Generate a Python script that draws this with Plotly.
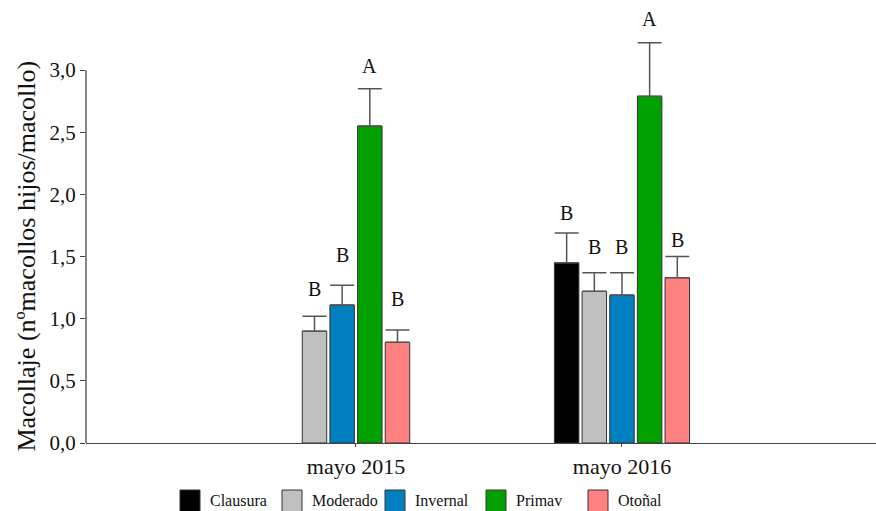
import plotly.graph_objects as go

categories = ["mayo 2015", "mayo 2016"]
series = ["Clausura", "Moderado", "Invernal", "Primav", "Otoñal"]
colors = ["#000000", "#c0c0c0", "#0080c0", "#00a000", "#ff8080"]

# values per series for [mayo 2015, mayo 2016]; None = no data
clausura = [None, 1.45]
moderado = [0.90, 1.22]
invernal = [1.11, 1.19]
primav = [2.55, 2.79]
otonal = [0.81, 1.33]

err_clausura = [None, 0.24]
err_moderado = [0.12, 0.15]
err_invernal = [0.16, 0.18]
err_primav = [0.30, 0.43]
err_otonal = [0.10, 0.17]

letters_clausura = [None, "B"]
letters_moderado = ["B", "B"]
letters_invernal = ["B", "B"]
letters_primav = ["A", "A"]
letters_otonal = ["B", "B"]

# y (data units) where each letter is drawn
letter_y_clausura = [None, 1.85]
letter_y_moderado = [1.24, 1.58]
letter_y_invernal = [1.51, 1.58]
letter_y_primav = [3.03, 3.41]
letter_y_otonal = [1.16, 1.63]

values = [clausura, moderado, invernal, primav, otonal]
errors = [err_clausura, err_moderado, err_invernal, err_primav, err_otonal]
letters = [letters_clausura, letters_moderado, letters_invernal, letters_primav, letters_otonal]
letter_ys = [letter_y_clausura, letter_y_moderado, letter_y_invernal, letter_y_primav, letter_y_otonal]

FONT = "Liberation Serif"
pitch = 0.104
bw = 0.092

fig = go.Figure()
annotations = []

# number of bars present in each category, used to center each group
n_present = [sum(1 for v in values if v[j] is not None) for j in range(len(categories))]
slot_index = [[None] * len(categories) for _ in values]
for j in range(len(categories)):
    k = 0
    for i, v in enumerate(values):
        if v[j] is not None:
            slot_index[i][j] = k
            k += 1

for i, name in enumerate(series):
    xs, ys, es, offs = [], [], [], []
    for j, cat in enumerate(categories):
        if values[i][j] is None:
            continue
        k = slot_index[i][j]
        off = (k - n_present[j] / 2) * pitch + (pitch - bw) / 2
        xs.append(cat)
        ys.append(values[i][j])
        es.append(errors[i][j])
        offs.append(off)
        annotations.append(dict(
            x=j + off + bw / 2, y=letter_ys[i][j], xref="x", yref="y",
            text=letters[i][j], showarrow=False, yanchor="middle",
            font=dict(family=FONT, size=20, color="#111")))
    fig.add_trace(go.Bar(
        name=name, x=xs, y=ys, offset=offs, width=bw,
        marker=dict(color=colors[i], line=dict(color="#333333", width=1)),
        error_y=dict(type="data", array=es, arrayminus=[0] * len(es), symmetric=False,
                     color="#555555", thickness=1.5, width=12),
        showlegend=False, cliponaxis=False, hoverinfo="skip"))

W, H = 876, 511
ml, mr, mt, mb = 86, 0, 8, 68
pw, ph = W - ml - mr, H - mt - mb

def px_x(px):
    return (px - ml) / pw

def px_y(py):
    return (H - mb - py) / ph

# manual legend
legend_x = [180, 282, 385, 486, 588]
shapes = []
for i, name in enumerate(series):
    x0 = legend_x[i]
    shapes.append(dict(type="rect", xref="paper", yref="paper",
                       x0=px_x(x0), x1=px_x(x0 + 20), y0=px_y(490), y1=px_y(512),
                       fillcolor=colors[i], line=dict(color="#333333", width=1)))
    annotations.append(dict(x=px_x(x0 + 28), y=px_y(500), xref="paper", yref="paper",
                            text=name, showarrow=False, xanchor="left", yanchor="middle",
                            font=dict(family=FONT, size=16, color="#111")))

# y axis line (0 to 3)
shapes.append(dict(type="line", xref="paper", yref="y", x0=0, x1=0, y0=0, y1=3,
                   line=dict(color="#444444", width=1.3)))

annotations.append(dict(x=px_x(27), y=1.5, xref="paper", yref="y",
                        text="Macollaje (nºmacollos hijos/macollo)", textangle=-90,
                        showarrow=False, xanchor="center", yanchor="middle",
                        font=dict(family=FONT, size=26, color="#111")))

fig.update_layout(
    width=W, height=H,
    margin=dict(l=ml, r=mr, t=mt, b=mb),
    paper_bgcolor="white", plot_bgcolor="white",
    separators=",.",
    barmode="overlay",
    hovermode=False,
    shapes=shapes, annotations=annotations,
    xaxis=dict(type="category", categoryorder="array", categoryarray=categories,
               range=[-1.015, 1.955], showgrid=False, zeroline=False,
               showline=True, linecolor="#444444", linewidth=1.3,
               ticks="outside", ticklen=3, tickcolor="#444444",
               tickfont=dict(family=FONT, size=22, color="#111")),
    yaxis=dict(range=[0, 3.5], tickvals=[0, 0.5, 1, 1.5, 2, 2.5, 3], tickformat=".1f",
               showgrid=False, zeroline=False, showline=False,
               ticks="outside", ticklen=5, tickcolor="#444444",
               tickfont=dict(family=FONT, size=21, color="#111")),
)

fig.write_html("out.html", config={"displayModeBar": False},
               post_script="document.body.style.margin='0';document.body.style.overflow='hidden';")
